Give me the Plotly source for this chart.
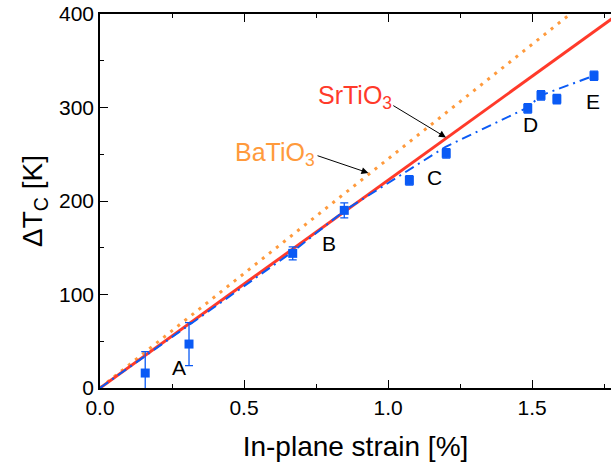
import plotly.graph_objects as go

# ---- data ----
strain = [0.157, 0.309, 0.669, 0.848, 1.074, 1.202, 1.485, 1.531, 1.586, 1.715]
dtc = [16, 47, 144, 190, 222, 251, 299, 313, 309, 334]
dtc_err = [23, 23, 7, 8, 5, 5, 5, 5, 5, 5]

fit_x = [0, 0.67, 0.85, 1.2, 1.485, 1.531, 1.715]
fit_y = [0, 146, 190, 258, 300, 313, 334]

sto_x = [0, 1.8]
sto_y = [0, 400]
bto_x = [0, 1.8]
bto_y = [0, 441]

point_labels = ["A", "B", "C", "D", "E"]
label_x = [0.273, 0.796, 1.160, 1.495, 1.713]
label_y = [22, 155, 225, 282, 306]

x_ticks = [0.0, 0.5, 1.0, 1.5]
y_ticks = [0, 100, 200, 300, 400]

BLUE = "#0a5af5"
RED = "#ff3a2a"
ORANGE = "#ff9a3c"
FONT = "Liberation Sans, Arial, Helvetica, sans-serif"

fig = go.Figure()

fig.add_trace(go.Scatter(x=bto_x, y=bto_y, mode="lines",
                         line=dict(color=ORANGE, width=3, dash="3px,6px"),
                         showlegend=False))
fig.add_trace(go.Scatter(x=sto_x, y=sto_y, mode="lines",
                         line=dict(color=RED, width=3),
                         showlegend=False))
fig.add_trace(go.Scatter(x=fit_x, y=fit_y, mode="lines",
                         line=dict(color=BLUE, width=2, dash="10px,5px,2px,5px"),
                         showlegend=False))
fig.add_trace(go.Scatter(x=strain, y=dtc, mode="markers",
                         marker=dict(symbol="square", size=9, color=BLUE),
                         error_y=dict(type="data", array=dtc_err, color=BLUE,
                                      thickness=1.3, width=4),
                         showlegend=False))

annotations = []
for t, lx, ly in zip(point_labels, label_x, label_y):
    annotations.append(dict(x=lx, y=ly, xref="x", yref="y", text=t, showarrow=False,
                            font=dict(family=FONT, size=21, color="black"),
                            xanchor="center", yanchor="middle"))

annotations.append(dict(x=0.75, y=311, xref="x", yref="y",
                        text="SrTiO<sub>3</sub>", showarrow=False,
                        font=dict(family=FONT, size=25, color=RED),
                        xanchor="left", yanchor="middle"))
annotations.append(dict(x=0.462, y=250.5, xref="x", yref="y",
                        text="BaTiO<sub>3</sub>", showarrow=False,
                        font=dict(family=FONT, size=25, color=ORANGE),
                        xanchor="left", yanchor="middle"))
# arrows
annotations.append(dict(x=1.201, y=268, ax=1.013, ay=303, xref="x", yref="y",
                        axref="x", ayref="y", text="", showarrow=True,
                        arrowhead=2, arrowsize=1.4, arrowwidth=1, arrowcolor="black",
                        standoff=0, startstandoff=0))
annotations.append(dict(x=0.932, y=230, ax=0.75, ay=249, xref="x", yref="y",
                        axref="x", ayref="y", text="", showarrow=True,
                        arrowhead=2, arrowsize=1.4, arrowwidth=1, arrowcolor="black",
                        standoff=0, startstandoff=0))

fig.update_layout(
    width=611, height=467,
    margin=dict(l=100, r=0, t=14, b=79),
    paper_bgcolor="white", plot_bgcolor="white",
    font=dict(family=FONT, color="black"),
    annotations=annotations,
    xaxis=dict(range=[0, 1.774], tickvals=x_ticks, ticktext=[f"{v:.1f}" for v in x_ticks],
               ticks="inside", ticklen=8, tickwidth=1.3, tickcolor="black",
               showline=True, linecolor="black", linewidth=1.5, mirror="ticks",
               showgrid=False, zeroline=False,
               tickfont=dict(size=21, family=FONT),
               minor=dict(dtick=0.25, tick0=0, ticks="inside", ticklen=4, tickcolor="black", tickwidth=1.3),
               title=dict(text="In-plane strain [%]", font=dict(size=28, family=FONT), standoff=18)),
    yaxis=dict(range=[0, 400], tickvals=y_ticks,
               ticks="inside", ticklen=8, tickwidth=1.3, tickcolor="black",
               showline=True, linecolor="black", linewidth=1.5,
               showgrid=False, zeroline=False,
               tickfont=dict(size=21, family=FONT),
               minor=dict(dtick=50, tick0=0, ticks="inside", ticklen=4, tickcolor="black", tickwidth=1.3),
               title=dict(text="ΔT<sub>C</sub> [K]", font=dict(size=28, family=FONT), standoff=8)),
)

fig.write_html("out.html")
